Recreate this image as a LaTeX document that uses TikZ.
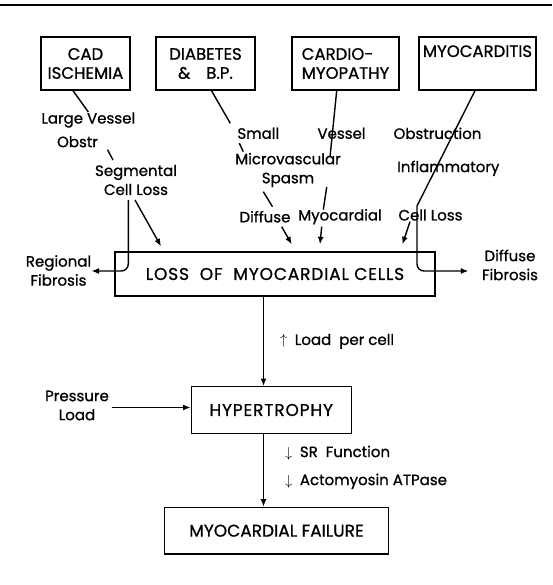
\documentclass[tikz,border=0pt]{standalone}
\usepackage{fontspec}
\setmainfont{Poppins}[FakeBold=0.9]
\newfontfamily\widecaps{Poppins}[FakeBold=0.9, LetterSpace=5]
\usepackage{tikz}
\usetikzlibrary{arrows.meta, positioning, calc}

\newcommand{\lett}{\fontsize{15}{19}\selectfont}
\newcommand{\boxlett}{\fontsize{16.5}{19}\selectfont}
\newcommand{\mainlett}{\fontsize{17}{19}\selectfont}

\begin{document}
\begin{tikzpicture}[x=1pt, y=-1pt,
  font=\lett,
  box/.style={rectangle, draw, line width=1.4pt, align=center, inner sep=2pt},
  cause/.style={box, minimum height=53pt, font=\boxlett},
  chain/.style={box, font=\mainlett},
  lbl/.style={inner sep=1pt, align=center},
  link/.style={line width=1.4pt},
  arrow/.style={-{Latex[length=7.5pt,width=6pt]}, line width=1.4pt},
]
  \useasboundingbox (0,0) rectangle (552,585);
  \draw[line width=2pt] (0,5) -- (552,5);

  % causes
  \node[cause, minimum width=89pt] (cad) at (85.5,63.5) {CAD\\ISCHEMIA};
  \node[cause, minimum width=99pt] (diab) at (205.5,63.5) {DIABETES\\\&\hspace{16pt}B.P.};
  \node[cause, minimum width=107pt, align=left] (cardio) at (345.5,63.5) {CARDIO-\\MYOPATHY};
  \node[cause, minimum width=117pt] (myoc) at (477.5,63.5) {MYOCARDITIS\\\strut};

  % mechanisms
  \node[lbl] (large) at (88.3,120) {Large Vessel};
  \node[lbl] (obstr) at (77.5,141.7) {Obstr};
  \node[lbl] (seg) at (136,180) {Segmental\\Cell Loss};
  \node[lbl] (small) at (258.3,133.3) {Small};
  \node[lbl] (vessel) at (341.5,133.3) {Vessel};
  \node[lbl] (obstruct) at (437.5,133.3) {Obstruction};
  \node[lbl] (micro) at (288,170) {Microvascular\\Spasm};
  \node[lbl] (infl) at (448.3,168.3) {Inflammatory};
  \node[lbl] (diffuse) at (265,216.7) {Diffuse};
  \node[lbl] (myocard) at (340,216.7) {Myocardial};
  \node[lbl] (cellloss) at (430.5,215) {Cell Loss};
  \node[lbl] (regional) at (58.5,270.5) {Regional\\Fibrosis};
  \node[lbl] (diffib) at (510,265) {Diffuse\\Fibrosis};

  % main chain
  \node[chain, minimum width=320pt, minimum height=44pt] (loss) at (275,274) {\widecaps LOSS\ \ OF\ \ MYOCARDIAL\ CELLS};
  \node[chain, minimum width=160pt, minimum height=46.6pt] (hyper) at (271.2,410) {\widecaps HYPERTROPHY};
  \node[chain, minimum width=224pt, minimum height=46.7pt] (fail) at (276.5,530.7) {MYOCARDIAL FAILURE};
  \node[lbl] (press) at (77,405.5) {Pressure\\Load};
  \coordinate (spine) at (263.5,0);

  \draw[link] ($(cad.south)+(-12.5,0)$) -- ($(large)+(0,-8)$);
  \draw[link] ($(obstr)+(30,8)$) -- ($(seg)+(-23,-20)$);
  \draw[arrow] ($(seg)+(-1,20)$) -- ($(loss.north west)+(46.7,-5)$);
  \draw[arrow, rounded corners=7pt] ($(seg)+(-7.7,20)$) |- ($(regional)+(33,0.5)$);

  \draw[link] ($(diab.south)+(6,0)$) -- ($(small)+(-28,-10)$);
  \draw[link] ($(small)+(-19,10)$) -- ($(micro)+(-44.7,-18.3)$);
  \draw[link] ($(micro)+(-24.7,21.7)$) -- ($(diffuse)+(7.5,-10)$);
  \draw[arrow] ($(diffuse)+(16.7,10)$) -- ($(loss.north)+(16.7,-7)$);

  \draw[link] ($(cardio.south)+(-8.8,0)$) -- ($(micro)+(42,-13)$);
  \draw[link] ($(micro)+(38.7,17)$) -- ($(myocard)+(-16.7,-7)$);
  \draw[arrow] ($(myocard)+(-18.3,10)$) -- ($(loss.north)+(45,-7)$);

  \draw[link] ($(myoc.south)+(-2.5,0)$) -- ($(cellloss)+(-13.5,-9)$);
  \draw[arrow, rounded corners=7pt] ($(cellloss)+(-13.5,-9)$) |- ($(diffib)+(-41.7,6)$);
  \draw[arrow] ($(cellloss)+(-20.5,6.7)$) -- ($(loss.north east)+(-33.3,-7)$);

  \draw[arrow] (loss.south -| spine) -- node[lbl, right=15pt] {$\uparrow$\enspace Load\ \ per cell} (hyper.north -| spine);
  \draw[arrow] ($(press)+(34.5,2)$) -- ($(hyper.west)+(0,-2.5)$);
  \draw[arrow] (hyper.south -| spine) -- node[lbl, right=20pt, yshift=3pt, align=left]
    {$\downarrow$\enspace SR\ \ Function\\[9pt]$\downarrow$\enspace Actomyosin ATPase} (fail.north -| spine);
\end{tikzpicture}
\end{document}
